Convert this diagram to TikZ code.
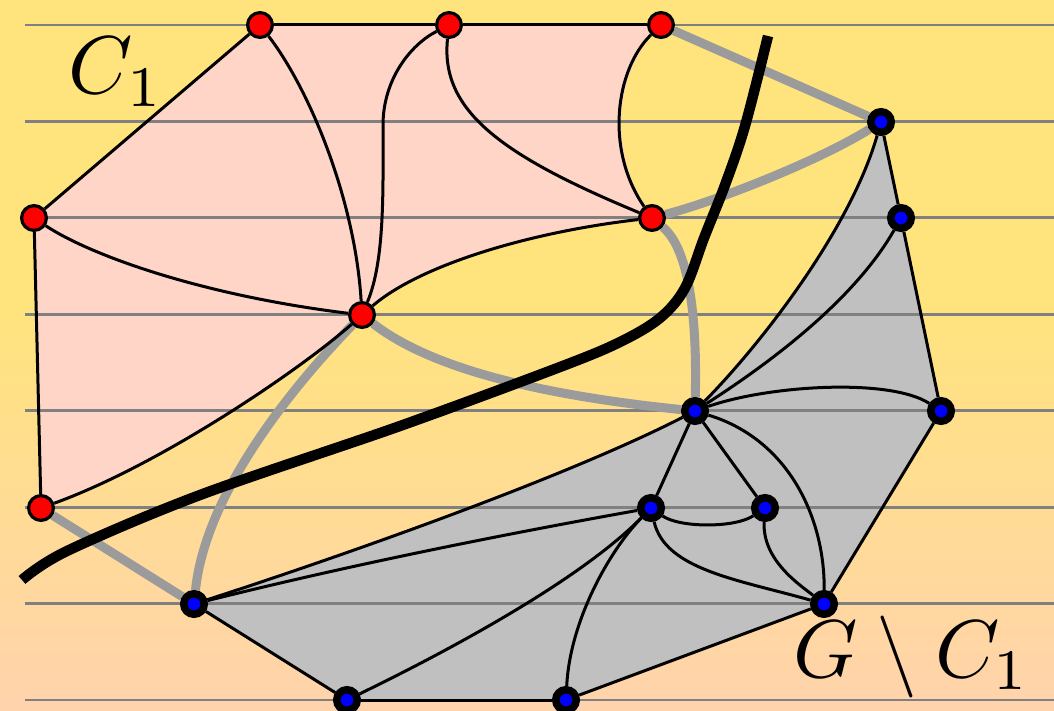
\documentclass[tikz,border=0pt]{standalone}
\usepackage{graphicx}
\definecolor{bgtop}{RGB}{255,228,125}
\definecolor{bgbot}{RGB}{255,211,172}
\definecolor{pinkfill}{RGB}{255,213,200}
\definecolor{grayfill}{RGB}{192,192,192}
\definecolor{grayedge}{RGB}{155,155,155}
\definecolor{hlinecol}{RGB}{128,128,128}
\pgfdeclarelayer{bglayer}
\pgfdeclarelayer{midlayer}
\pgfsetlayers{bglayer,midlayer,main}
\begin{document}
\begin{tikzpicture}[x=0.5pt,y=-0.5pt,
  rednode/.style={circle,draw=black,fill=red,line width=1.6pt,minimum size=12.4pt,inner sep=0pt},
  bluenode/.style={circle,draw=black,fill=blue,line width=3.75pt,minimum size=10.25pt,inner sep=0pt},
  blk/.style={draw=black,line width=1.5pt},
  gry/.style={draw=grayedge,line width=4.5pt},
  hl/.style={draw=hlinecol,line width=1.4pt},
  cutline/.style={draw=black,line width=5.2pt},
  lbl/.style={inner sep=0pt,anchor=base west}]
\useasboundingbox (0,0) rectangle (1054,711);

% nodes
\node[rednode] (r1) at (260,25) {};
\node[rednode] (r2) at (449,25) {};
\node[rednode] (r3) at (661,25) {};
\node[rednode] (r4) at (34,218) {};
\node[rednode] (r5) at (652,218) {};
\node[rednode] (r6) at (362,315) {};
\node[rednode] (r7) at (41,508) {};
\node[bluenode] (b1) at (881,122) {};
\node[bluenode] (b2) at (901,218) {};
\node[bluenode] (b3) at (695,411) {};
\node[bluenode] (b4) at (941,411) {};
\node[bluenode] (b5) at (651,508) {};
\node[bluenode] (b6) at (765,508) {};
\node[bluenode] (b7) at (194,604) {};
\node[bluenode] (b8) at (824,604) {};
\node[bluenode] (b9) at (347,700) {};
\node[bluenode] (b10) at (566,700) {};

\node[lbl] (c1) at (68,94) {\scalebox{4.1}{$C_1$}};
\node[lbl] (gc) at (793,677) {\scalebox{4.1}{$G\setminus C_1$}};

\begin{pgfonlayer}{bglayer}
  \fill[bgtop] (0,0) rectangle (1054,300);
  \shade[top color=bgtop,bottom color=bgbot] (0,299) rectangle (1054,711);
  % region C1
  \fill[pinkfill] (r1.center) -- (r2.center) -- (r3.center)
     .. controls (615,70) and (605,150) .. (r5.center)
     .. controls (530,232) and (420,265) .. (r6.center)
     .. controls (300,370) and (160,465) .. (r7.center)
     -- (r4.center) -- cycle;
  % region G minus C1
  \fill[grayfill] (b1.center) -- (b2.center) -- (b4.center) -- (b8.center)
     -- (b10.center) -- (b9.center) -- (b7.center)
     .. controls (330,560) and (560,480) .. (b3.center)
     .. controls (760,345) and (850,230) .. (b1.center) -- cycle;
  \foreach \k in {0,...,7}
    \draw[hl] (25,{25+96.43*\k}) -- (1054,{25+96.43*\k});
\end{pgfonlayer}

\begin{pgfonlayer}{midlayer}
  % gray cut edges
  \draw[gry] (r3) -- (b1);
  \draw[gry] (r5) .. controls (720,200) and (820,160) .. (b1);
  \draw[gry] (r5) .. controls (690,250) and (697,320) .. (b3);
  \draw[gry] (r6) .. controls (420,360) and (510,392) .. (b3);
  \draw[gry] (r6) .. controls (280,400) and (205,500) .. (b7);
  \draw[gry] (r7) -- (b7);
  % edges inside C1
  \draw[blk] (r1) -- (r2);
  \draw[blk] (r2) -- (r3);
  \draw[blk] (r1) -- (r4);
  \draw[blk] (r4) -- (r7);
  \draw[blk] (r1) .. controls (310,90) and (355,200) .. (r6);
  \draw[blk] (r2) .. controls (410,45) and (383,80) .. (383,125)
                  .. controls (383,190) and (385,260) .. (r6);
  \draw[blk] (r2) .. controls (440,110) and (500,155) .. (r5);
  \draw[blk] (r3) .. controls (615,70) and (605,150) .. (r5);
  \draw[blk] (r4) .. controls (90,255) and (200,295) .. (r6);
  \draw[blk] (r6) .. controls (300,370) and (160,465) .. (r7);
  \draw[blk] (r6) .. controls (420,265) and (530,232) .. (r5);
  % edges inside G minus C1
  \draw[blk] (b1) -- (b2);
  \draw[blk] (b2) -- (b4);
  \draw[blk] (b4) -- (b8);
  \draw[blk] (b8) -- (b10);
  \draw[blk] (b10) -- (b9);
  \draw[blk] (b9) -- (b7);
  \draw[blk] (b7) .. controls (330,560) and (560,480) .. (b3);
  \draw[blk] (b3) .. controls (760,345) and (850,230) .. (b1);
  \draw[blk] (b3) .. controls (790,350) and (860,290) .. (b2);
  \draw[blk] (b3) .. controls (770,385) and (890,378) .. (b4);
  \draw[blk] (b3) -- (b5);
  \draw[blk] (b3) -- (b6);
  \draw[blk] (b3) .. controls (790,440) and (825,520) .. (b8);
  \draw[blk] (b5) .. controls (680,528) and (735,528) .. (b6);
  \draw[blk] (b5) .. controls (665,570) and (740,580) .. (b8);
  \draw[blk] (b6) .. controls (762,560) and (800,585) .. (b8);
  \draw[blk] (b7) .. controls (350,565) and (500,535) .. (b5);
  \draw[blk] (b5) .. controls (580,580) and (450,650) .. (b9);
  \draw[blk] (b5) .. controls (610,550) and (570,620) .. (b10);
  % the cut
  \draw[cutline] plot[smooth,tension=0.55] coordinates {(22,580) (67,551) (200,495) (400,426) (560,367) (620,342) (660,318) (685,288) (704,238) (725,185) (745,126) (768,36)};
\end{pgfonlayer}
\end{tikzpicture}
\end{document}
